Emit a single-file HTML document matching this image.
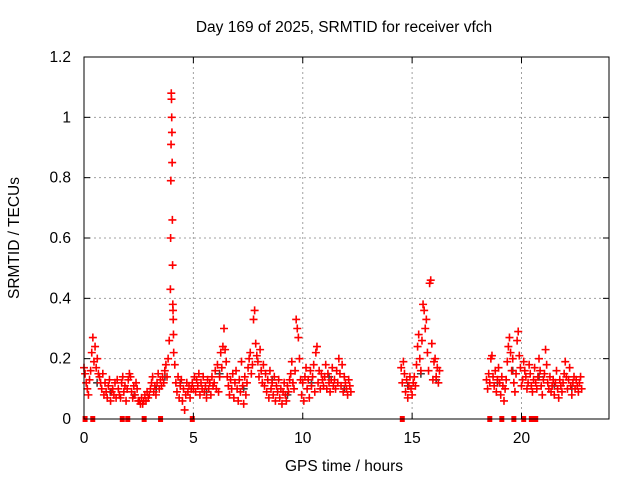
<!DOCTYPE html>
<html><head><meta charset="utf-8"><style>
body{margin:0;background:#fff;}
svg{display:block;font-family:"Liberation Sans",sans-serif;}
</style></head><body>
<svg id="chart" width="640" height="480" viewBox="0 0 640 480">
<rect width="640" height="480" fill="#fff"/>
<text x="344" y="32" font-size="15.5" text-anchor="middle" fill="#000">Day 169 of 2025, SRMTID for receiver vfch</text>
<text transform="translate(19,238) rotate(-90)" font-size="15.5" text-anchor="middle">SRMTID / TECUs</text>
<text x="344" y="471" font-size="15.5" text-anchor="middle">GPS time / hours</text>
<g id="grid"></g>
<g id="marks"></g>
<rect x="84" y="57" width="525" height="362" fill="none" stroke="#000" stroke-width="1"/>
<g id="ticks"></g>
</svg>
<script>
const xTicks=[0,5,10,15,20];
const yTicks=[0,0.2,0.4,0.6,0.8,1,1.2];
const yTickLabels=["0","0.2","0.4","0.6","0.8","1","1.2"];
const segStarts=[0,3.95,4.15,14.5,18.4];
const segSteps=[0.0506,0.01,0.05,0.05,0.05];
const segValues=[
[.17,.15,.12,.10,.08,.13,.16,.22,.27,.19,.24,.17,.20,.15,.14,.12,.10,.15,.08,.12,.09,.07,.11,.13,.06,.09,.10,.08,.12,.07,.13,.10,.08,.07,.12,.14,.09,.11,.06,.10,.13,.15,.14,.09,.07,.11,.08,.12,.10,.06,.06,.05,.07,.05,.06,.08,.06,.09,.07,.08,.10,.12,.14,.09,.11,.08,.12,.15,.10,.13,.11,.14,.12,.16,.18,.14,.20,.26],
[.43,.60,.79,.91,1.08,1.06,1.0,.95,.85,.66,.51,.38,.36,.33,.28,.22],
[.18,.12,.09,.14,.07,.11,.13,.06,.10,.03,.08,.12,.09,.11,.07,.10,.12,.10,.14,.09,.13,.11,.15,.08,.12,.10,.14,.09,.11,.07,.13,.10,.12,.08,.14,.11,.12,.16,.10,.18,.09,.14,.22,.17,.24,.30,.23,.19,.14,.11,.08,.13,.10,.15,.07,.12,.16,.10,.06,.13,.09,.19,.11,.05,.14,.08,.12,.17,.20,.22,.15,.18,.33,.36,.25,.21,.19,.14,.23,.16,.12,.18,.11,.15,.09,.13,.07,.16,.10,.12,.08,.14,.06,.11,.09,.13,.07,.10,.05,.09,.12,.08,.06,.11,.09,.13,.15,.19,.12,.10,.16,.33,.30,.27,.20,.13,.08,.12,.06,.14,.17,.10,.13,.07,.16,.11,.14,.18,.09,.22,.24,.12,.16,.10,.15,.13,.11,.14,.18,.10,.15,.12,.09,.13,.17,.11,.13,.10,.16,.12,.20,.15,.11,.18,.09,.14,.12,.10,.08,.13,.11,.09],
[.17,.12,.19,.15,.09,.13,.07,.11,.14,.10,.08,.12,.14,.11,.18,.24,.28,.20,.16,.26,.38,.36,.30,.33,.22,.16,.45,.46,.25,.13,.19,.20,.14,.17,.12,.16],
[.13,.10,.15,.12,.20,.21,.14,.11,.16,.09,.13,.17,.12,.08,.14,.11,.06,.10,.13,.19,.24,.27,.22,.16,.20,.12,.09,.15,.26,.29,.21,.17,.11,.13,.19,.16,.14,.10,.12,.18,.15,.11,.09,.13,.17,.12,.10,.14,.20,.16,.11,.08,.13,.15,.23,.18,.12,.10,.14,.09,.11,.13,.08,.12,.16,.10,.07,.13,.11,.09,.12,.15,.19,.14,.10,.13,.17,.11,.08,.12,.14,.10,.13,.11,.09,.12,.14,.10]
];
const grayTimes=[0.6,1.2,2.3,3.3,3.7,4.4,5.6,6.2,7.3,8.6,9.3,10.4,11.2,11.9,14.8,15.4,16.1,18.9,19.6,20.8,21.5,22.3];
const grayValues=[.12,.09,.08,.10,.14,.12,.09,.15,.10,.13,.08,.12,.14,.10,.11,.15,.13,.12,.16,.14,.11,.10];
const zeroTimes=[0.05,0.4,1.75,2.0,2.75,3.5,4.95,14.55,18.55,19.1,19.65,20.1,20.45,20.65];
const X0=84,X1=609,Y0=419,Y1=57,XMAX=24,YMAX=1.2;
const xs=t=>X0+(X1-X0)*t/XMAX;
const ys=v=>Y0-(Y0-Y1)*v/YMAX;
const NS="http://www.w3.org/2000/svg";
function mk(tag,attrs,parent){const e=document.createElementNS(NS,tag);for(const k in attrs)e.setAttribute(k,attrs[k]);parent.appendChild(e);return e;}
const grid=document.getElementById('grid'),ticks=document.getElementById('ticks'),marks=document.getElementById('marks');
xTicks.forEach(t=>{const x=xs(t);
 if(t>0){const g=mk('line',{x1:x,x2:x,y1:Y0,y2:Y1,stroke:'#a0a0a0','stroke-dasharray':'2,3'},grid);
 
 }
 mk('line',{x1:x,x2:x,y1:Y0,y2:Y0-6,stroke:'#000'},ticks);
 mk('line',{x1:x,x2:x,y1:Y1,y2:Y1+6,stroke:'#000'},ticks);
 const l=mk('text',{x:x,y:Y0+24,'font-size':15.5,'text-anchor':'middle'},ticks);l.textContent=t;
 
 });
yTicks.forEach((v,i)=>{const y=ys(v);
 if(v>0&&v<YMAX){const g=mk('line',{x1:X0,x2:X1,y1:y,y2:y,stroke:'#a0a0a0','stroke-dasharray':'2,3'},grid);
 
 }
 mk('line',{x1:X0,x2:X0+6,y1:y,y2:y,stroke:'#000'},ticks);
 mk('line',{x1:X1,x2:X1-6,y1:y,y2:y,stroke:'#000'},ticks);
 const l=mk('text',{x:X0-13,y:y+5,'font-size':15.5,'text-anchor':'end'},ticks);l.textContent=yTickLabels[i];
 
 });
function plus(t,v,color,name){const x=xs(t),y=ys(v);
 const p=mk('path',{d:`M${x-4},${y}H${x+4}M${x},${y-4}V${y+4}`,stroke:color,'stroke-width':1.6,fill:'none'},marks);
 
 }
grayTimes.forEach((t,i)=>plus(t,grayValues[i],'#404040','gray-point'));
segValues.forEach((vals,s)=>vals.forEach((v,i)=>plus(segStarts[s]+i*segSteps[s],v,'#ff0000','srmtid-point')));
zeroTimes.forEach(t=>{const r=mk('rect',{x:xs(t)-2.5,y:Y0-3,width:5,height:6,fill:'#ff0000'},marks);
 
 });
</script>
</body></html>
